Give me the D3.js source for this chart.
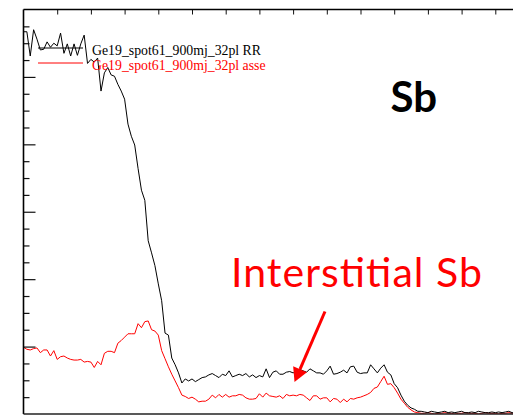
<!DOCTYPE html>
<html>
<head>
<meta charset="utf-8">
<script src="https://cdn.jsdelivr.net/npm/d3@7"></script>
<style>
  html, body { margin: 0; padding: 0; background: #fff; }
  svg { display: block; }
</style>
</head>
<body>
<svg id="chart" width="513" height="415"></svg>
<script>
// Depth profile: Sb signal, total (RR) and assigned component
const seriesNames = ["Ge19_spot61_900mj_32pl RR", "Ge19_spot61_900mj_32pl asse"];

const rrSignal = [
  5.67, 5.67, 5.31, 5.70, 5.56, 5.40, 5.41, 5.52, 5.44, 5.50,
  5.46, 5.65, 5.35, 5.49, 5.31, 5.49, 5.32, 5.49, 5.62, 5.20,
  5.26, 5.22, 5.28, 4.79, 5.06, 5.14, 5.03, 5.01, 4.89, 4.79,
  4.67, 4.30, 4.12, 3.99, 3.64, 3.32, 3.17, 2.57, 2.39, 2.20,
  1.93, 1.68, 1.20, 1.17, 0.83, 0.73, 0.61, 0.46, 0.52, 0.49,
  0.52, 0.48, 0.51, 0.54, 0.55, 0.58, 0.60, 0.57, 0.54, 0.59,
  0.57, 0.64, 0.55, 0.57, 0.59, 0.57, 0.60, 0.55, 0.58, 0.54,
  0.57, 0.55, 0.67, 0.54, 0.62, 0.64, 0.59, 0.59, 0.62, 0.63,
  0.61, 0.63, 0.66, 0.64, 0.62, 0.67, 0.64, 0.61, 0.61, 0.59,
  0.64, 0.71, 0.59, 0.60, 0.62, 0.65, 0.61, 0.70, 0.71, 0.62,
  0.60, 0.61, 0.61, 0.73, 0.67, 0.61, 0.68, 0.73, 0.62, 0.58,
  0.45, 0.39, 0.28, 0.19, 0.13, 0.09, 0.07, 0.04, 0.04, 0.03,
  0.02, 0.04, 0.03, 0.02, 0.03, 0.04, 0.02, 0.03, 0.02, 0.03,
  0.04, 0.02, 0.02, 0.03, 0.02, 0.04, 0.03, 0.02, 0.02, 0.03,
  0.02, 0.03, 0.02, 0.03, 0.04, 0.02, 0.03
];

const asseSignal = [
  0.99, 0.96, 0.95, 0.97, 0.98, 0.91, 0.95, 0.95, 0.86, 0.94,
  0.81, 0.85, 0.86, 0.83, 0.81, 0.80, 0.80, 0.81, 0.77, 0.78,
  0.77, 0.69, 0.78, 0.73, 0.90, 0.93, 0.93, 0.91, 1.05, 1.09,
  1.14, 1.19, 1.19, 1.19, 1.34, 1.28, 1.37, 1.38, 1.25, 1.23,
  1.17, 0.94, 0.82, 0.70, 0.59, 0.49, 0.39, 0.28, 0.26, 0.23,
  0.25, 0.22, 0.18, 0.19, 0.19, 0.22, 0.28, 0.24, 0.29, 0.25,
  0.29, 0.25, 0.27, 0.27, 0.29, 0.28, 0.24, 0.22, 0.22, 0.23,
  0.30, 0.25, 0.31, 0.27, 0.26, 0.25, 0.27, 0.23, 0.29, 0.27,
  0.28, 0.27, 0.29, 0.28, 0.24, 0.20, 0.27, 0.27, 0.22, 0.24,
  0.24, 0.18, 0.23, 0.22, 0.17, 0.22, 0.18, 0.23, 0.22, 0.24,
  0.25, 0.27, 0.29, 0.32, 0.38, 0.40, 0.48, 0.56, 0.44, 0.45,
  0.39, 0.31, 0.22, 0.16, 0.10, 0.06, 0.03, 0.02, 0.01, 0.01,
  0.02, 0.01, 0.00, 0.01, 0.01, 0.02, 0.01, 0.01, 0.00, 0.01,
  0.01, 0.02, 0.01, 0.01, 0.01, 0.00, 0.01, 0.02, 0.01, 0.01,
  0.01, 0.00, 0.01, 0.01, 0.02, 0.01, 0.01
];

const scanIndex = rrSignal.map((_, i) => i);
const topTickValues = d3.range(10, 150, 10);
const majorYTicks = [1, 2, 3, 4, 5];
const minorYTicks = d3.range(0.25, 6, 0.25).filter(v => Math.abs(v - Math.round(v)) > 1e-6);

const elementLabel = "Sb";
const annotationLabel = "Interstitial Sb";

const svg = d3.select("#chart");
const W = 513, H = 415;
const plotLeft = 23.5, plotTop = 9.5, plotBottom = 414;

const x = d3.scaleLinear().domain([0, 150]).range([plotLeft, plotLeft + 505.5]);
const y = d3.scaleLinear().domain([0, 6]).range([plotBottom, plotTop]);

svg.append("rect").attr("width", W).attr("height", H).attr("fill", "#fff");

// plot lines
const line = d3.line()
  .x((d, i) => x(scanIndex[i]))
  .y(d => y(d));

svg.append("defs").append("clipPath").attr("id", "plotclip")
  .append("rect").attr("x", plotLeft).attr("y", plotTop)
  .attr("width", W - plotLeft).attr("height", plotBottom - plotTop);

const plot = svg.append("g").attr("clip-path", "url(#plotclip)");
plot.append("path").datum(asseSignal)
  .attr("d", line).attr("fill", "none").attr("stroke", "#ff0000").attr("stroke-width", 1);
plot.append("path").datum(rrSignal)
  .attr("d", line).attr("fill", "none").attr("stroke", "#000").attr("stroke-width", 1);

// left axis: minor and major inward ticks
const yMinor = d3.axisLeft(y).tickValues(minorYTicks).tickSizeInner(-6).tickSizeOuter(0).tickFormat("");
const yMajor = d3.axisLeft(y).tickValues(majorYTicks).tickSizeInner(-12).tickSizeOuter(0).tickFormat("");
[yMinor, yMajor].forEach(ax => {
  const g = svg.append("g").attr("transform", `translate(${plotLeft},0)`).call(ax);
  g.select(".domain").remove();
  g.selectAll(".tick line").attr("stroke", "#111").attr("stroke-width", 1.2);
});

// top axis ticks
const xTop = d3.axisTop(x).tickValues(topTickValues).tickSizeInner(-5).tickSizeOuter(0).tickFormat("");
const gTop = svg.append("g").attr("transform", `translate(0,${plotTop})`).call(xTop);
gTop.select(".domain").remove();
gTop.selectAll(".tick line").attr("stroke", "#111").attr("stroke-width", 1);

// frame
svg.append("line").attr("x1", plotLeft).attr("x2", W).attr("y1", plotTop).attr("y2", plotTop)
  .attr("stroke", "#000").attr("stroke-width", 1.5);
svg.append("line").attr("x1", plotLeft).attr("x2", plotLeft).attr("y1", plotTop).attr("y2", plotBottom)
  .attr("stroke", "#000").attr("stroke-width", 1.6);
svg.append("line").attr("x1", plotLeft).attr("x2", W).attr("y1", plotBottom).attr("y2", plotBottom)
  .attr("stroke", "#222").attr("stroke-width", 1.3);

// legend
const legendColors = ["#000", "#ff0000"];
const legend = svg.append("g");
seriesNames.forEach((name, i) => {
  const ly = 48 + i * 15;
  legend.append("line").attr("x1", 38).attr("x2", 83).attr("y1", ly).attr("y2", ly)
    .attr("stroke", legendColors[i]).attr("stroke-width", 1);
  legend.append("text").attr("x", 92).attr("y", ly + 6.5)
    .attr("font-family", "'Liberation Serif', 'Times New Roman', serif")
    .attr("font-size", 13.8).attr("fill", legendColors[i]).text(name);
});

// element label
svg.append("text").attr("x", 390.5).attr("y", 111.5)
  .attr("font-family", "Lato, 'Open Sans', sans-serif").attr("font-weight", "bold")
  .attr("font-size", 42).attr("fill", "#000").text(elementLabel);

// annotation
svg.append("text").attr("x", 231).attr("y", 286.5)
  .attr("font-family", "Lato, 'Open Sans', sans-serif")
  .attr("font-size", 41).attr("textLength", 251).attr("lengthAdjust", "spacing")
  .attr("fill", "#ff0000").text(annotationLabel);

const tip = [294.5, 382], tail = [325, 311.5];
const dx = tip[0] - tail[0], dy = tip[1] - tail[1];
const len = Math.hypot(dx, dy), ux = dx / len, uy = dy / len;
const headLen = 14, headHalf = 7.5;
const base = [tip[0] - ux * headLen, tip[1] - uy * headLen];
svg.append("line").attr("x1", tail[0]).attr("y1", tail[1]).attr("x2", base[0]).attr("y2", base[1])
  .attr("stroke", "#ff0000").attr("stroke-width", 3);
svg.append("path")
  .attr("d", `M${tip[0]},${tip[1]}L${base[0] - uy * headHalf},${base[1] + ux * headHalf}L${base[0] + uy * headHalf},${base[1] - ux * headHalf}Z`)
  .attr("fill", "#ff0000");
</script>
</body>
</html>
